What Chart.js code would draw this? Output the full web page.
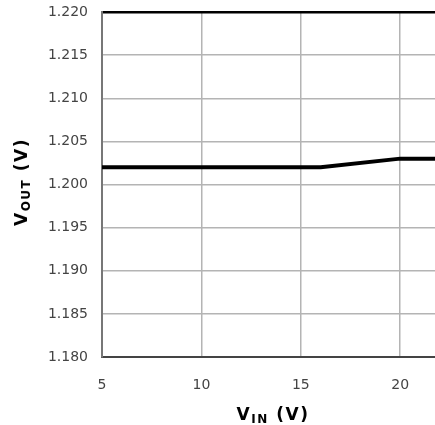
<!DOCTYPE html>
<html>
<head>
  <title>VOUT vs VIN</title>
  <script src="https://cdn.jsdelivr.net/npm/chart.js"></script>
  <style>
    body { margin: 0; background: #fff; font-family: "DejaVu Sans", sans-serif; }
    #wrap { position: relative; width: 435px; height: 425px; }
    canvas { display: block; }
    .axt { position: absolute; font-weight: bold; font-size: 17px; letter-spacing: 1.5px; color: #000; white-space: nowrap; }
    .axt sub { font-size: 12px; vertical-align: -3px; }
    #ytitle { left: 22px; top: 182px; transform: translate(-50%, -50%) rotate(-90deg); }
    #xtitle { left: 273px; top: 415px; transform: translate(-50%, -50%); }
  </style>
</head>
<body>
  <div id="wrap">
    <canvas id="c" width="435" height="425"></canvas>
    <div class="axt" id="ytitle">V<sub>OUT</sub> (V)</div>
    <div class="axt" id="xtitle">V<sub>IN</sub> (V)</div>
  </div>

  <script>
    // data
    const vin = [5, 16, 20, 21.75];
    const vout = [1.202, 1.202, 1.203, 1.203];

    const xTicks = [5, 10, 15, 20];
    const yTicks = [1.180, 1.185, 1.190, 1.195, 1.200, 1.205, 1.210, 1.215, 1.220];

    const tickFont = { family: "DejaVu Sans", size: 14 };
    const isTop = c => c.tick && Math.abs(c.tick.value - 1.22) < 1e-9;

    new Chart(document.getElementById("c"), {
      type: "line",
      data: {
        datasets: [{
          data: vin.map((x, i) => ({ x: x, y: vout[i] })),
          borderColor: "#000",
          borderWidth: 4,
          pointRadius: 0,
          tension: 0
        }]
      },
      options: {
        responsive: false,
        animation: false,
        layout: { padding: 0 },
        plugins: { legend: { display: false }, tooltip: { enabled: false } },
        scales: {
          x: {
            type: "linear",
            min: 5,
            max: 21.75,
            afterBuildTicks: s => { s.ticks = xTicks.map(v => ({ value: v })); },
            afterFit: s => { s.height = 68; },
            ticks: { font: tickFont, color: "#444", padding: 20 },
            grid: { color: "#b4b4b4", lineWidth: 1.5, drawTicks: false },
            border: { color: "#444", width: 2 }
          },
          y: {
            min: 1.18,
            max: 1.22,
            afterBuildTicks: s => { s.ticks = yTicks.map(v => ({ value: v })); },
            // fixed axis box so the plot sits where the original does
            afterFit: s => { s.width = 102; s.paddingTop = 12; s.paddingBottom = 0; },
            ticks: {
              font: tickFont, color: "#444", padding: 14,
              callback: v => v.toFixed(3)
            },
            grid: {
              color: c => isTop(c) ? "#000" : "#b4b4b4",
              lineWidth: c => isTop(c) ? 2.5 : 1.5,
              drawTicks: false
            },
            border: { color: "#777", width: 2 }
          }
        }
      }
    });
  </script>
</body>
</html>
